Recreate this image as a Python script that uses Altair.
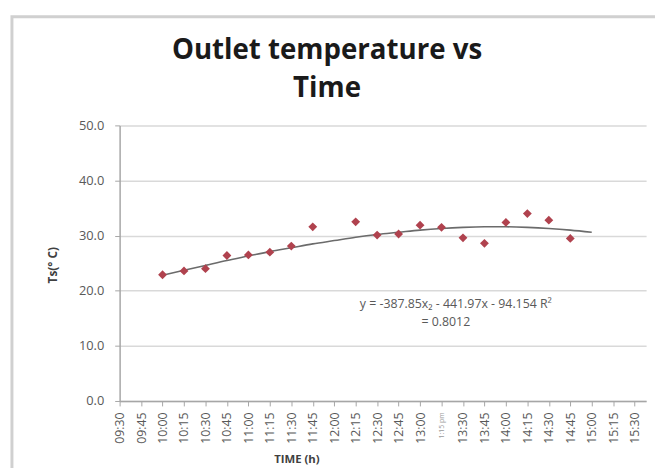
import altair as alt
import pandas as pd

# ---- data ----
point_times = ["10:00", "10:15", "10:30", "10:45", "11:00", "11:15", "11:30", "11:45",
               "12:15", "12:30", "12:45", "13:00", "13:15", "13:30", "13:45", "14:00",
               "14:15", "14:30", "14:45"]
temps = [22.9, 23.6, 24.0, 26.4, 26.5, 27.0, 28.1, 31.6,
         32.5, 30.1, 30.3, 31.9, 31.5, 29.6, 28.6, 32.4,
         34.0, 32.8, 29.5]

trend_times = ["10:00", "10:15", "10:30", "10:45", "11:00", "11:15", "11:30", "11:45",
               "12:00", "12:15", "12:30", "12:45", "13:00", "13:15", "13:30", "13:45",
               "14:00", "14:15", "14:30", "14:45", "15:00"]
trend_vals = [22.8, 23.7, 24.6, 25.5, 26.3, 27.1, 27.8, 28.5,
              29.1, 29.7, 30.2, 30.6, 31.0, 31.3, 31.5, 31.6,
              31.6, 31.5, 31.3, 31.0, 30.6]

tick_labels = ["09:30", "09:45", "10:00", "10:15", "10:30", "10:45", "11:00", "11:15",
               "11:30", "11:45", "12:00", "12:15", "12:30", "12:45", "13:00", "1:15 pm",
               "13:30", "13:45", "14:00", "14:15", "14:30", "14:45", "15:00", "15:15", "15:30"]
y_ticks = [0, 10, 20, 30, 40, 50]

title_lines = ["Outlet temperature vs", "Time"]
eq_lines = ["y = -387.85x\u2082 - 441.97x - 94.154 R\u00b2", "= 0.8012"]
eq_times = ["13:25", "13:18"]
eq_vals = [17.6, 14.3]


def mins(t):
    h, m = t.split(":")
    return int(h) * 60 + int(m)


start = 570
x_tick_vals = [start + 15 * i for i in range(len(tick_labels))]
label_expr = "[" + ",".join("'%s'" % l for l in tick_labels) + "][round((datum.value-570)/15)]"

pts = pd.DataFrame({"t": [mins(t) for t in point_times], "v": temps})
trend = pd.DataFrame({"t": [mins(t) for t in trend_times], "v": trend_vals})
eq = pd.DataFrame({"t": [mins(t) for t in eq_times], "v": eq_vals, "txt": eq_lines})

xscale = alt.Scale(domain=[570, 938], nice=False, zero=False)
yscale = alt.Scale(domain=[0, 50], nice=False)

xaxis = alt.Axis(
    values=x_tick_vals, labelExpr=label_expr, labelAngle=270, grid=False,
    labelFontSize={"condition": {"test": "datum.value == 795", "value": 7}, "value": 12.5},
    labelColor={"condition": {"test": "datum.value == 795", "value": "#9a9a9a"}, "value": "#595959"},
    labelPadding=6, tickSize=5, tickColor="#a6a6a6",
    domainColor="#a6a6a6", domainWidth=1.5, labelOverlap=False, labelFlush=False,
    labelSeparation=0, labelBound=False,
    title="TIME (h)", titleFontSize=11.5, titleFontWeight="bold", titleColor="#404040",
    titleX=179, titleY=59, titleAlign="center", titleBaseline="middle",
)
yaxis = alt.Axis(
    values=y_ticks, format=".1f", grid=True, gridColor="#d9d9d9", gridWidth=1.5,
    domainColor="#a6a6a6", domainWidth=1.5, tickColor="#a6a6a6", tickSize=5,
    labelPadding=11, labelFontSize=13, labelColor="#595959",
    title="Ts(° C)", titleFontSize=12, titleFontWeight="bold", titleColor="#404040",
    titleX=-68, titleY=141, titleAngle=270, titleAlign="center", titleBaseline="middle",
)

X = alt.X("t:Q", scale=xscale, axis=xaxis)
Y = alt.Y("v:Q", scale=yscale, axis=yaxis)

one = pd.DataFrame({"a": [0]})
frame = alt.Chart(one).mark_rect(
    fillOpacity=0, stroke="#d0d0d0", strokeWidth=3
).encode(x=alt.value(-109), x2=alt.value(1000), y=alt.value(-110), y2=alt.value(800))

title = alt.Chart(one).mark_text(
    text=title_lines, fontSize=28, fontWeight="bold", color="#1a1a1a",
    lineHeight=38, align="center", baseline="alphabetic"
).encode(x=alt.value(210), y=alt.value(-67))

line = alt.Chart(trend).mark_line(color="#6b6b6b", strokeWidth=1.6, interpolate="monotone").encode(
    x=X, y=Y
)
points = alt.Chart(pts).mark_point(shape="diamond", filled=True, size=80, color="#B0424E", opacity=1).encode(
    x=X, y=Y
)
text = alt.Chart(eq).mark_text(fontSize=12.5, color="#595959", align="center", baseline="middle").encode(
    x=X, y=Y, text="txt:N"
)

chart = alt.layer(frame, line, points, text, title).properties(
    width=533, height=279,
    padding={"left": 113, "top": 116, "right": 9, "bottom": 65},
    autosize="none",
).configure(font="Open Sans").configure_view(stroke=None).configure_axisX(
    labelOverlap=False
)

chart.save("out.html", embed_options={"renderer": "svg", "actions": False})
